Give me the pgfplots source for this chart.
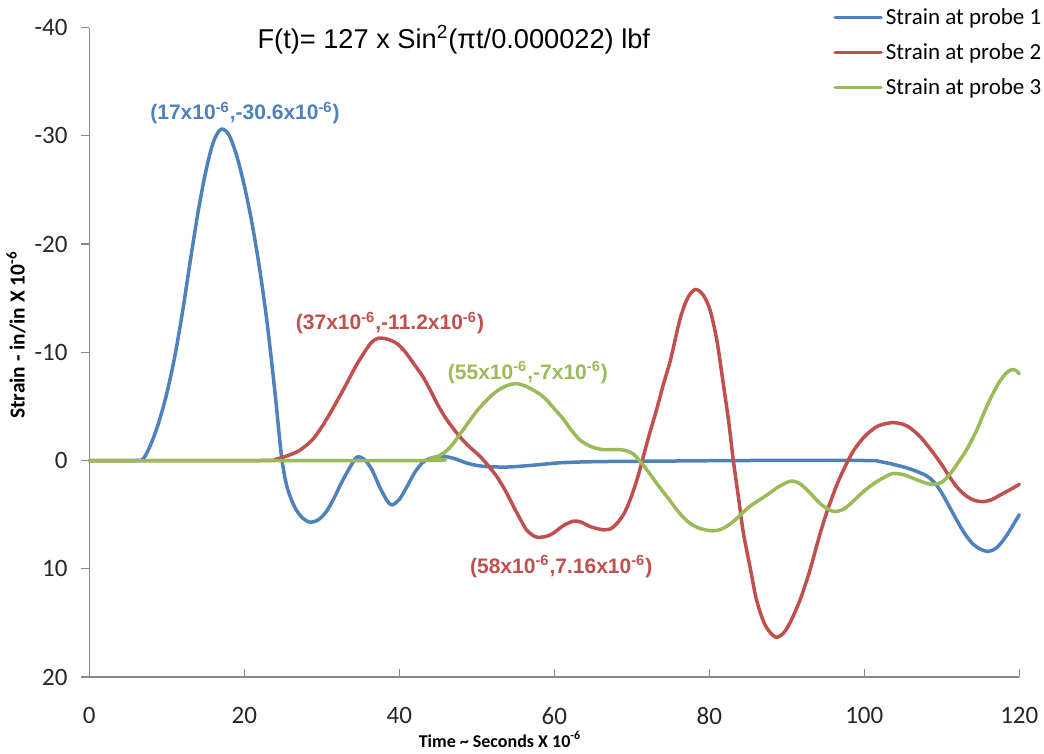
\documentclass[border=0pt]{standalone}
\usepackage{fontspec}
\setmainfont{Carlito}
\newfontfamily\arial{Liberation Sans}
\usepackage{pgfplots}
\pgfplotsset{compat=1.18}
\definecolor{c1}{HTML}{4F81BD}
\definecolor{c2}{HTML}{C0504D}
\definecolor{c3}{HTML}{9BBB59}
\definecolor{axgray}{HTML}{898989}
\begin{document}
\begin{tikzpicture}
\begin{axis}[
  scale only axis, width=465pt, height=324.75pt,
  xmin=0, xmax=120, ymin=-40, ymax=20, y dir=reverse,
  axis x line*=bottom, axis y line*=left,
  axis line style={axgray, line width=0.65pt},
  xtick={0,20,...,120}, ytick={-40,-30,...,20},
  tick align=inside, major tick length=4pt,
  tick style={axgray, line width=0.65pt},
  ytick style={xshift=-4pt},
  /pgf/number format/assume math mode=true,
  tick label style={font=\fontsize{12.5}{14}\selectfont, inner sep=0pt, text=black!85},
  xticklabel style={anchor=north, yshift=-15pt},
  yticklabel style={anchor=east, xshift=-10.7pt},
  xlabel={Time \textasciitilde{} Seconds X 10\textsuperscript{-6}},
  ylabel={Strain - in/in X 10\textsuperscript{-6}},
  xlabel style={at={(axis description cs:0.4416,-0.1078)}, anchor=base, font=\bfseries\fontsize{9}{10}\selectfont},
  ylabel style={at={(axis description cs:-0.0788,0.5266)}, anchor=center, font=\bfseries\fontsize{10.7}{12}\selectfont},
  clip=false,
  legend style={at={(axis description cs:0.7997,1.0325)}, anchor=north west, draw=none, fill=none, inner sep=0pt, row sep=6.9pt, column sep=1.5pt, font=\fontsize{11.5}{13}\selectfont, nodes={inner sep=0pt, text height=9pt, text depth=1.6pt, anchor=west}},
  legend cell align=left,
  legend image code/.code={\draw[#1, line width=1.75pt, line cap=round] (0pt,0pt) -- (23pt,0pt);},
  every axis plot/.append style={line width=1.75pt, line cap=round, line join=round, smooth, tension=0.5, no marks},
]
\addplot[c1] coordinates {
(0,0) (6,0) (7,-0.2) (8,-1.6) (9,-3.6) (10,-6.2) (11,-9.5) (12,-13.6) (13,-18.3) (14,-22.8) (15,-26.6) (16,-29.4) (17,-30.6) (18,-30.1) (19,-28.2) (20,-25.4) (21,-21.9) (22,-17.6) (23,-12.4) (24,-6.0) (24.8,-0.4) (25.5,2.4) (26.5,4.3) (27.5,5.3) (28.5,5.7) (29.5,5.5) (30.5,4.8) (31.5,3.6) (32.5,2.1) (33.5,0.8) (34.5,-0.3) (35.5,-0.1) (36.5,0.9) (37.5,2.5) (38.5,3.8) (39.1,4.1) (40,3.6) (41,2.4) (42,1.1) (43,0.2) (44,-0.2) (45.5,-0.4) (47,-0.2) (49,0.3) (51,0.55) (54,0.6) (57,0.45) (61,0.2) (66,0.1) (75,0.05) (85,0) (100,0) (102,0.1) (104,0.4) (106,0.8) (108,1.4) (109,2.0) (110,3.0) (111,4.3) (112,5.6) (113,6.8) (114,7.7) (115,8.2) (116,8.4) (117,8.1) (118,7.3) (119,6.2) (120,5.0)
};
\addlegendentry{Strain at probe 1}
\addplot[c2] coordinates {
(0,0) (22,0) (24,-0.1) (25,-0.3) (26.8,-0.8) (28,-1.4) (28.9,-2.0) (30,-3.1) (31.1,-4.4) (32.2,-5.8) (33.2,-7.1) (34.3,-8.6) (35.4,-9.9) (36.4,-10.9) (37.3,-11.3) (38.5,-11.2) (39.7,-10.8) (40.8,-10.0) (41.8,-9.0) (43,-7.8) (44,-6.5) (45,-5.1) (46.1,-3.8) (47.8,-2.2) (49,-1.3) (50.4,-0.4) (51.5,0.5) (52.6,1.5) (53.7,2.8) (54.7,4.2) (55.6,5.4) (56.4,6.4) (57.2,6.9) (57.9,7.1) (59,7.0) (59.9,6.7) (61.2,6.0) (62.5,5.6) (63.5,5.7) (64.6,6.1) (66.3,6.4) (67.3,6.3) (68.1,5.8) (69,4.9) (69.8,3.6) (70.7,1.7) (71.5,-0.4) (72.3,-2.5) (73.2,-4.7) (74.1,-7.1) (75,-9.3) (76.2,-13.0) (77.2,-15.0) (78.2,-15.8) (79.2,-15.3) (80.1,-13.9) (81,-11.0) (81.8,-7.1) (82.5,-3.6) (83.1,0) (83.8,3.6) (84.4,6.7) (85.3,10.0) (86.1,12.9) (87.2,15.2) (88.5,16.3) (89.5,16.0) (90.4,15.0) (91.7,12.9) (93,10.1) (94,7.5) (95.1,4.9) (96.6,2.0) (98.2,-0.4) (99.2,-1.5) (100.3,-2.4) (101.8,-3.2) (103.7,-3.5) (105.5,-3.2) (107.2,-2.2) (108.9,-0.7) (110,0.4) (111,1.5) (112,2.5) (113.2,3.3) (114.3,3.7) (115.4,3.8) (116.5,3.6) (117.5,3.2) (118.8,2.7) (120,2.2)
};
\addlegendentry{Strain at probe 2}
\addplot[c3] coordinates {
(0,0) (43,0) (44,-0.2) (45,-0.4) (46.1,-0.9) (47,-1.6) (47.8,-2.4) (48.7,-3.3) (49.5,-4.1) (50.4,-4.9) (51.3,-5.6) (52.2,-6.2) (53,-6.6) (54,-6.95) (55.1,-7.1) (56.2,-6.9) (57.3,-6.5) (58.2,-6.1) (59,-5.6) (60.1,-4.7) (61.2,-3.8) (62.2,-2.8) (63.3,-1.9) (64.4,-1.4) (65.5,-1.1) (66.5,-1.0) (67.6,-1.0) (68.5,-1.0) (69.3,-0.9) (70.2,-0.6) (71.1,0.1) (72.1,1.0) (73.2,2.1) (74.7,3.5) (76.2,4.9) (77.5,5.8) (78.9,6.3) (80.5,6.5) (81.7,6.3) (83,5.7) (84.2,4.9) (85.3,4.2) (87.4,3.2) (89,2.4) (90.6,1.9) (91.8,2.2) (93,3.0) (94.5,4.1) (96,4.7) (97.3,4.5) (98.5,3.8) (100,2.8) (101.5,2.0) (103,1.4) (103.7,1.2) (105,1.3) (106.5,1.7) (108,2.1) (108.9,2.2) (110,2.0) (111,1.3) (112,0.3) (113.2,-1.0) (114.5,-2.8) (115.5,-4.5) (116.2,-5.6) (117.2,-7.0) (118.2,-8.0) (119,-8.4) (119.6,-8.3) (120,-8.0)
};
\addlegendentry{Strain at probe 3}
\node[font=\arial\fontsize{13.6}{15}\selectfont, anchor=base] at (axis description cs:0.392,0.967) {F(t)= 127 x Sin\textsuperscript{2}(πt/0.000022) lbf};
\node[font=\arial\bfseries\fontsize{10.5}{12}\selectfont, text=c1] at (axis cs:20.09,-32.1) {(17x10\textsuperscript{-6},-30.6x10\textsuperscript{-6})};
\node[font=\arial\bfseries\fontsize{10.5}{12}\selectfont, text=c2] at (axis cs:38.8,-12.7) {(37x10\textsuperscript{-6},-11.2x10\textsuperscript{-6})};
\node[font=\arial\bfseries\fontsize{10.5}{12}\selectfont, text=c3] at (axis cs:56.6,-8.14) {(55x10\textsuperscript{-6},-7x10\textsuperscript{-6})};
\node[font=\arial\bfseries\fontsize{10.5}{12}\selectfont, text=c2] at (axis cs:60.9,9.79) {(58x10\textsuperscript{-6},7.16x10\textsuperscript{-6})};
\end{axis}
\pgfresetboundingbox
\path[use as bounding box] (-44.65pt,-38.5pt) rectangle (477.35pt,338.5pt);
\end{tikzpicture}
\end{document}
